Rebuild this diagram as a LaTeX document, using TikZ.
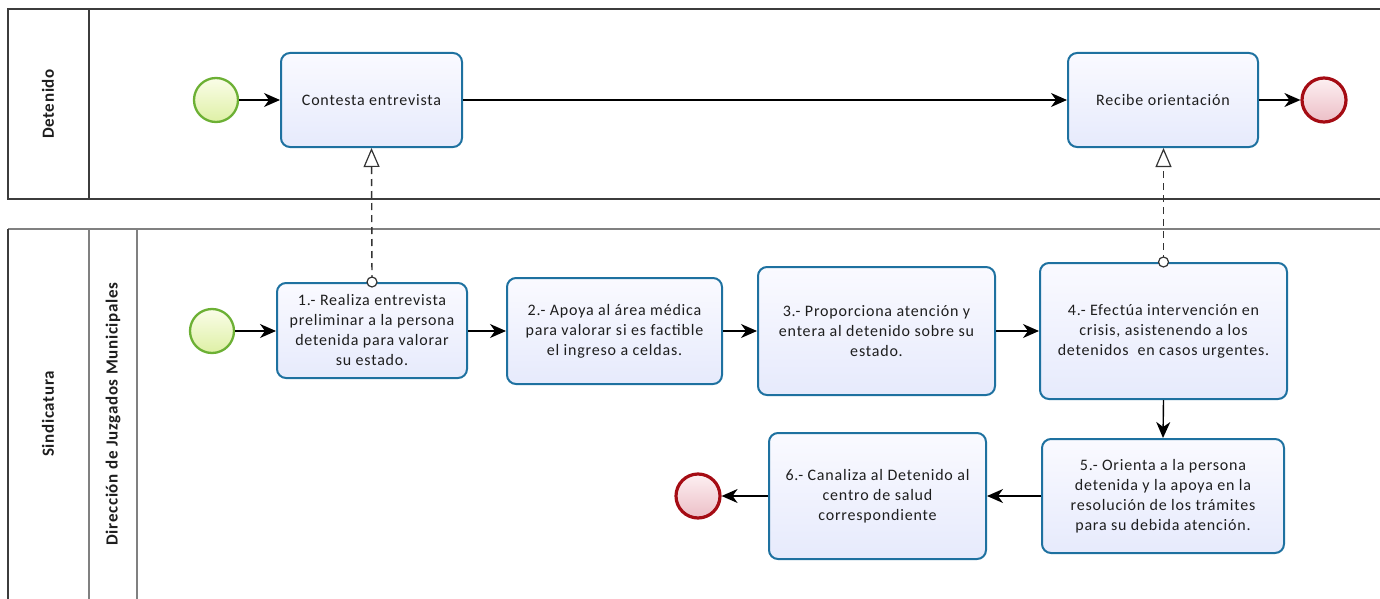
\documentclass[tikz,border=0pt]{standalone}
\usepackage{fontspec}
\setmainfont{Carlito}
\newfontfamily\taskfont[LetterSpace=5]{Carlito}
\newfontfamily\lanefont[LetterSpace=4]{Carlito}
\usetikzlibrary{arrows.meta}
\definecolor{taskb}{RGB}{30,113,160}
\definecolor{tasktop}{RGB}{250,250,255}
\definecolor{taskbot}{RGB}{230,234,252}
\definecolor{startb}{RGB}{108,176,52}
\definecolor{starttop}{RGB}{250,253,232}
\definecolor{startbot}{RGB}{222,240,165}
\definecolor{endb}{RGB}{165,12,20}
\definecolor{endtop}{RGB}{253,240,242}
\definecolor{endbot}{RGB}{236,190,198}
\definecolor{poolc}{RGB}{60,60,60}
\definecolor{txt}{RGB}{30,30,30}
\tikzset{
  task/.style={draw=taskb, line width=2pt, rounded corners=9pt, top color=tasktop, bottom color=taskbot,
    align=center, text=txt, font=\taskfont\fontsize{16}{20}\selectfont, inner sep=2pt},
  startev/.style={circle, draw=startb, line width=2.3pt, top color=starttop, bottom color=startbot, minimum size=44pt, inner sep=0pt},
  endev/.style={circle, draw=endb, line width=3.2pt, top color=endtop, bottom color=endbot, minimum size=44pt, inner sep=0pt},
  flow/.style={line width=1.4pt, -{Stealth[length=16pt,width=14pt,inset=5pt]}},
  assoc/.style={line width=1.4pt, dash pattern=on 7pt off 5pt, -{Triangle[open,length=19pt,width=16pt,line width=1.2pt]}, color=black!80},
  pool/.style={line width=1.3pt, draw=poolc},
  lanelbl/.style={rotate=90, font=\lanefont\fontsize{17}{20}\bfseries\selectfont, text=txt}
}
\begin{document}
\begin{tikzpicture}[x=1pt,y=-1pt]
\useasboundingbox (0,0) rectangle (1380,599);
% pools
\draw[pool] (1395,9) -- (8,9) -- (8,199) -- (1395,199);
\draw[pool] (89,9) -- (89,199);
\draw[pool, draw=gray] (1395,229) -- (8,229);
\draw[pool] (8,229) -- (8,610);
\draw[pool, draw=gray] (89,229) -- (89,610);
\draw[pool, draw=gray] (137,229) -- (137,610);
\node[lanelbl] (l1) at (48,104) {Detenido};
\node[lanelbl] (l2) at (48,414) {Sindicatura};
\node[lanelbl] (l3) at (113,414) {Dirección de Juzgados Municipales};
% top lane
\node[startev] (s1) at (216,100) {};
\node[task, minimum width=181pt, minimum height=94pt] (c) at (371.5,100) {Contesta entrevista};
\node[task, minimum width=190pt, minimum height=94pt] (r) at (1163,100) {Recibe orientación};
\node[endev] (e1) at (1324,100) {};
% bottom lane
\node[startev] (s2) at (212,331) {};
\node[task, minimum width=190pt, minimum height=95pt] (t1) at (372,330.5) {1.- Realiza entrevista\\preliminar a la persona\\detenida para valorar\\su estado.};
\node[task, minimum width=215pt, minimum height=106pt] (t2) at (614.5,331) {2.- Apoya al área médica\\para valorar si es factible\\el ingreso a celdas.};
\node[task, minimum width=237pt, minimum height=128pt] (t3) at (876.5,331) {3.- Proporciona atención y\\entera al detenido sobre su\\estado.};
\node[task, minimum width=247pt, minimum height=136pt] (t4) at (1163.5,331) {4.- Efectúa intervención en\\crisis, asistenendo a los\\detenidos \ en casos urgentes.};
\node[task, minimum width=242pt, minimum height=114pt] (t5) at (1163,496) {5.- Orienta a la persona\\detenida y la apoya en la\\resolución de los trámites\\para su debida atención.};
\node[task, minimum width=217pt, minimum height=126pt] (t6) at (877.5,496) {6.- Canaliza al Detenido al\\centro de salud\\correspondiente};
\node[endev] (e2) at (698,496) {};
% flows
\draw[flow] (s1) -- (c);
\draw[flow] (c) -- (r);
\draw[flow] (r) -- (e1);
\draw[flow] (s2) -- (t1.west |- s2);
\draw[flow] (t1.east |- t2) -- (t2.west);
\draw[flow] (t2) -- (t3);
\draw[flow] (t3) -- (t4);
\draw[flow] (t4.south) -- (t5.north);
\draw[flow] (t5) -- (t6);
\draw[flow] (t6) -- (e2);
% associations
\draw[assoc] (t1.north) -- (c.south);
\draw[assoc] (t4.north) -- (t4.north |- r.south);
\draw[line width=1.2pt, draw=black!80, fill=white] (t1.north) circle (5pt);
\draw[line width=1.2pt, draw=black!80, fill=white] (t4.north) circle (5pt);
\end{tikzpicture}
\end{document}
